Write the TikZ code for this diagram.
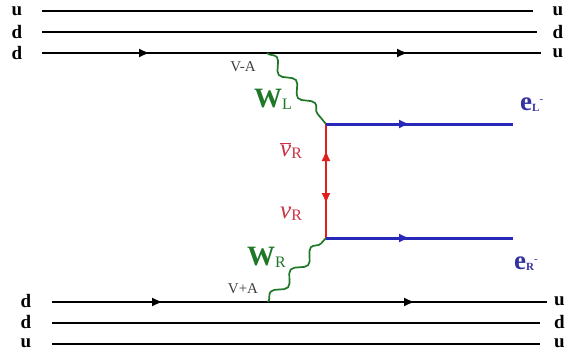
\documentclass[tikz,border=0pt]{standalone}
\usepackage{fontspec}
\setmainfont{Liberation Serif}
\usetikzlibrary{arrows.meta,decorations.pathmorphing,decorations.markings}

\definecolor{wgreen}{RGB}{30,120,40}
\definecolor{lepblue}{RGB}{40,40,185}
\definecolor{elabel}{RGB}{50,50,160}
\definecolor{nured}{RGB}{225,30,30}
\definecolor{nulabel}{RGB}{205,50,70}

\tikzset{
  quark/.style={line width=2.1pt},
  qlabel/.style={inner sep=0pt,font=\bfseries\fontsize{19}{19}\selectfont},
  tipat/.style={postaction={decorate},
    decoration={markings,mark=at position #1 with {\arrow{Latex[length=11pt,width=9pt]}}}},
  twotips/.style 2 args={postaction={decorate},
    decoration={markings,
      mark=at position #1 with {\arrow{Latex[length=11pt,width=9pt]}},
      mark=at position #2 with {\arrow{Latex[length=11pt,width=9pt]}}}},
  boson/.style={wgreen,line width=1.7pt,decorate,
    decoration={snake,amplitude=5pt,segment length=30pt}},
  wlabel/.style={wgreen,inner sep=0pt,anchor=base west},
  vlabel/.style={black!75,inner sep=0pt,font=\fontsize{15}{15}\selectfont},
}

\newcommand{\wboson}[1]{{\fontsize{28}{28}\selectfont\bfseries W}\raisebox{-0.25em}{\fontsize{16}{16}\selectfont #1}}
\newcommand{\elec}[1]{{\fontsize{27}{27}\selectfont\bfseries e}\raisebox{-0.15em}{\fontsize{11}{11}\selectfont\bfseries #1}\raisebox{0.7em}{\fontsize{11}{11}\selectfont -}}
\newcommand{\neut}[2]{{\fontsize{25}{25}\selectfont #1}\raisebox{-0.25em}{\fontsize{16}{16}\selectfont #2}}

\begin{document}
\begin{tikzpicture}[x=1pt,y=-1pt]
  \useasboundingbox [fill=white] (0,0) rectangle (566,356);

  % proton on top
  \node [qlabel] (tu1) at (17,11) {u};
  \node [qlabel] (td1) at (17,32) {d};
  \node [qlabel] (td2) at (17,53) {d};
  \node [qlabel] (ru1) at (558,11) {u};
  \node [qlabel] (rd1) at (558,32) {d};
  \node [qlabel] (ru2) at (558,53) {u};
  \coordinate (a1) at (42,11);  \coordinate (b1) at (533,11);
  \coordinate (a2) at (42,32);  \coordinate (b2) at (537,32);
  \coordinate (a3) at (42,53);  \coordinate (b3) at (541,53);
  \draw [quark] (a1) -- (b1);
  \draw [quark] (a2) -- (b2);
  \draw [quark,twotips={108pt}{366pt}] (a3) -- (b3);

  % proton at the bottom
  \node [qlabel] (bd1) at (26,301) {d};
  \node [qlabel] (bd2) at (26,322) {d};
  \node [qlabel] (bu1) at (26,343) {u};
  \node [qlabel,anchor=east] (su1) at (565,301) {u};
  \node [qlabel,anchor=east] (sd1) at (565,322) {d};
  \node [qlabel,anchor=east] (su2) at (565,343) {u};
  \coordinate (c1) at (52,302);  \coordinate (e1) at (547,302);
  \coordinate (c2) at (52,323);  \coordinate (e2) at (540,323);
  \coordinate (c3) at (52,344);  \coordinate (e3) at (540,344);
  \draw [quark,twotips={111pt}{363pt}] (c1) -- (e1);
  \draw [quark] (c2) -- (e2);
  \draw [quark] (c3) -- (e3);

  % vertices
  \coordinate (vL) at (267,53);
  \coordinate (nL) at (326,124);
  \coordinate (nm) at (326,180);
  \coordinate (nR) at (326,238);
  \coordinate (vR) at (268,302);

  % W bosons
  \draw [boson] (vL) -- (nL);
  \draw [boson] (vR) -- (nR);
  \node [vlabel] (va) at (243,67) {V-A};
  \node [vlabel] (vpa) at (243,289) {V+A};
  \node [wlabel] (wl) at (254,107) {\wboson{L}};
  \node [wlabel] (wr) at (247,265) {\wboson{R}};

  % neutrino line
  \draw [nured,line width=2pt,tipat=30pt] (nm) -- (nL);
  \draw [nured,line width=2pt,tipat=24pt] (nm) -- (nR);
  \node [nulabel,inner sep=0pt,anchor=base west] (nub) at (280,156)
    {\neut{$\overline{\hbox{\itshape ν}}$}{R}};
  \node [nulabel,inner sep=0pt,anchor=base west] (nu) at (280,218)
    {\neut{\itshape ν}{R}};

  % electrons
  \coordinate (eL) at (513,124);
  \coordinate (eR) at (513,238);
  \draw [lepblue,line width=3pt,tipat=84pt] (nL) -- (eL);
  \draw [lepblue,line width=3pt,tipat=84pt] (nR) -- (eR);
  \node [elabel,inner sep=0pt,anchor=base west] (el) at (520,110) {\elec{L}};
  \node [elabel,inner sep=0pt,anchor=base west] (er) at (514,269) {\elec{R}};
\end{tikzpicture}
\end{document}
